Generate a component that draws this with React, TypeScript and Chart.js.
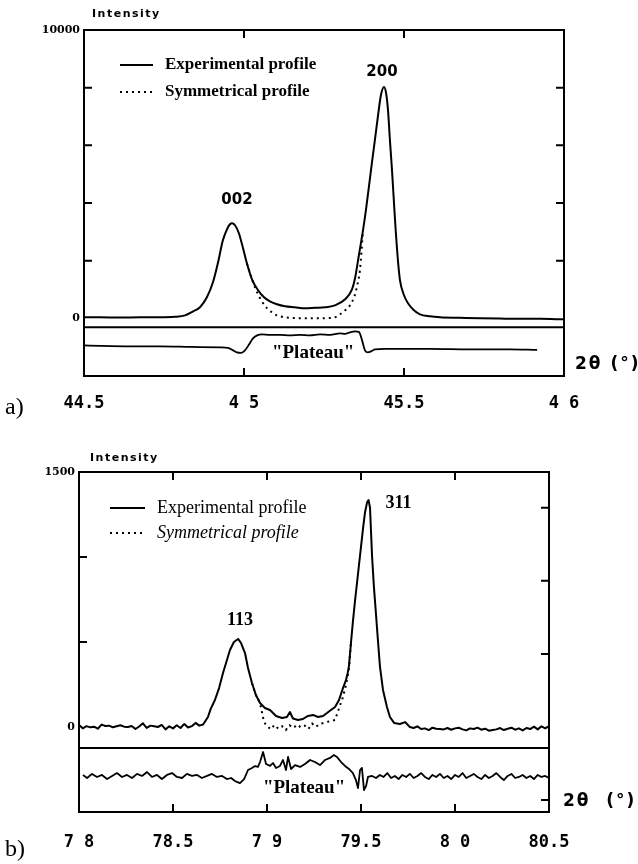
import React, { useEffect, useRef } from "react";
import { Chart, registerables } from "chart.js";

Chart.register(...registerables);

// ===================== Panel a) =====================
const thetaExpA = [44.5, 44.55, 44.6125, 44.675, 44.7375, 44.784, 44.816, 44.841, 44.8625, 44.884, 44.903, 44.919, 44.934, 44.947, 44.956, 44.9625, 44.972, 44.984, 44.997, 45.009, 45.025, 45.044, 45.0625, 45.081, 45.103, 45.128, 45.159, 45.191, 45.222, 45.253, 45.284, 45.316, 45.3375, 45.347, 45.359, 45.372, 45.381, 45.391, 45.4, 45.409, 45.419, 45.428, 45.4375, 45.444, 45.45, 45.456, 45.4625, 45.472, 45.481, 45.4875, 45.5, 45.5125, 45.531, 45.55, 45.581, 45.6125, 45.675, 45.7375, 45.8, 45.8625, 45.925, 46.0];
const experimentalA = [35, 35, 25, 35, 35, 52, 104, 243, 382, 729, 1250, 1944, 2708, 3090, 3264, 3299, 3229, 2951, 2431, 1910, 1354, 972, 729, 590, 486, 417, 382, 347, 365, 382, 451, 660, 1007, 1389, 2188, 3056, 3750, 4618, 5417, 6181, 7049, 7743, 8021, 7813, 7222, 6181, 5139, 3403, 2014, 1319, 799, 521, 278, 139, 69, 35, 17, 0, -10, -17, -17, -35];

const thetaSymA = [45.009, 45.025, 45.041, 45.056, 45.072, 45.0875, 45.103, 45.128, 45.159, 45.206, 45.253, 45.284, 45.3, 45.316, 45.331, 45.344, 45.353, 45.3625, 45.372];
const symmetricalA = [1910, 1354, 900, 590, 347, 208, 104, 35, 10, 0, 5, 35, 140, 278, 451, 729, 1100, 1700, 3056];

const thetaDiffA = [44.5, 44.55, 44.644, 44.7375, 44.831, 44.925, 44.95, 44.966, 44.978, 44.991, 45.003, 45.016, 45.028, 45.041, 45.056, 45.081, 45.1125, 45.144, 45.175, 45.206, 45.2375, 45.269, 45.3, 45.316, 45.331, 45.347, 45.359, 45.369, 45.378, 45.3875, 45.397, 45.409, 45.441, 45.4875, 45.581, 45.706, 45.831, 45.916];
const differenceA = [-938, -955, -972, -972, -990, -1007, -1024, -1111, -1181, -1198, -1111, -903, -694, -590, -556, -573, -573, -590, -573, -590, -556, -573, -521, -538, -486, -451, -469, -764, -1111, -1181, -1146, -1076, -1059, -1059, -1059, -1076, -1076, -1094];

const thetaSepA = [44.5, 46];
const separatorA = [-312, -312];

const xTickValuesA = [44.5, 45, 45.5, 46];
const xTickLabelsA = ["44.5", "4 5", "45.5", "4 6"];
const yLabelValuesA = [0, 10000];
const yLabelTextsA = ["0", "10000"];
const leftTicksA = [2000, 4000, 6000, 8000];
const rightTicksA = [2000, 4000, 6000, 8000];
const topTicksA = [45, 45.5];
const bottomTicksA = [45, 45.5];
const peakNamesA = ["002", "200"];
const peakLabelXA = [44.978, 45.431];
const peakLabelYA = [4097, 8542];

// ===================== Panel b) =====================
const thetaExpB = [78.0, 78.02, 78.04, 78.06, 78.08, 78.1, 78.12, 78.14, 78.16, 78.18, 78.2, 78.22, 78.24, 78.26, 78.28, 78.3, 78.32, 78.34, 78.36, 78.38, 78.4, 78.42, 78.44, 78.46, 78.48, 78.5, 78.52, 78.54, 78.56, 78.58, 78.6, 78.62, 78.64, 78.66, 78.686, 78.7, 78.723, 78.745, 78.766, 78.787, 78.803, 78.824, 78.846, 78.862, 78.883, 78.899, 78.92, 78.941, 78.963, 78.989, 79.016, 79.048, 79.08, 79.106, 79.122, 79.138, 79.165, 79.191, 79.218, 79.245, 79.271, 79.298, 79.319, 79.34, 79.362, 79.383, 79.404, 79.42, 79.428, 79.436, 79.447, 79.457, 79.468, 79.479, 79.489, 79.5, 79.511, 79.521, 79.532, 79.54, 79.548, 79.559, 79.569, 79.58, 79.59, 79.601, 79.617, 79.638, 79.654, 79.676, 79.707, 79.734, 79.76, 79.78, 79.8, 79.82, 79.84, 79.86, 79.88, 79.9, 79.92, 79.94, 79.96, 79.98, 80.0, 80.02, 80.04, 80.06, 80.08, 80.1, 80.12, 80.14, 80.16, 80.18, 80.2, 80.22, 80.24, 80.26, 80.28, 80.3, 80.32, 80.34, 80.36, 80.38, 80.4, 80.42, 80.44, 80.46, 80.48, 80.5];
const experimentalB = [12, -8, 5, -2, 2, -10, 14, 6, 8, -2, 4, 10, 2, 0, 6, -12, 3, 22, -5, 8, 4, 0, 12, -14, 4, -8, 10, -6, 18, -3, 5, 24, 8, 15, 59, 105, 159, 229, 318, 394, 453, 500, 518, 494, 435, 347, 259, 188, 141, 112, 100, 65, 53, 59, 88, 50, 41, 47, 65, 71, 59, 65, 82, 100, 118, 159, 229, 276, 310, 360, 500, 620, 740, 850, 950, 1060, 1170, 1260, 1320, 1335, 1290, 1000, 820, 660, 510, 353, 218, 118, 59, 24, 18, 29, 0, -6, 4, -12, -8, -18, -4, -10, -12, -14, -6, -16, -8, -4, -14, -20, -8, -12, -4, -16, -10, -22, -18, -14, -6, -18, -10, -4, -16, -8, -20, -6, -12, 2, -14, 4, -8, 6];

const thetaSymB = [78.92, 78.941, 78.963, 78.973, 78.984, 79.0, 79.02, 79.04, 79.06, 79.08, 79.1, 79.12, 79.14, 79.16, 79.18, 79.2, 79.22, 79.24, 79.26, 79.28, 79.3, 79.32, 79.34, 79.362, 79.383, 79.404, 79.42, 79.436, 79.447];
const symmetricalB = [259, 188, 141, 88, 29, 6, -14, 12, -10, 4, -18, 10, -6, 14, -2, 8, -12, 20, 0, 18, 24, 30, 35, 41, 110, 176, 247, 340, 500];

const thetaDiffB = [78.021, 78.043, 78.069, 78.096, 78.122, 78.149, 78.176, 78.202, 78.229, 78.255, 78.282, 78.309, 78.335, 78.362, 78.388, 78.415, 78.441, 78.468, 78.495, 78.521, 78.548, 78.574, 78.601, 78.628, 78.654, 78.681, 78.707, 78.734, 78.761, 78.787, 78.809, 78.83, 78.856, 78.878, 78.899, 78.92, 78.936, 78.952, 78.963, 78.979, 78.995, 79.016, 79.032, 79.048, 79.069, 79.085, 79.101, 79.112, 79.128, 79.149, 79.176, 79.202, 79.229, 79.255, 79.282, 79.309, 79.335, 79.356, 79.372, 79.394, 79.415, 79.436, 79.457, 79.473, 79.484, 79.495, 79.505, 79.516, 79.527, 79.537, 79.559, 79.58, 79.6, 79.62, 79.64, 79.66, 79.68, 79.7, 79.72, 79.74, 79.76, 79.78, 79.8, 79.82, 79.84, 79.86, 79.88, 79.9, 79.92, 79.94, 79.96, 79.98, 80.0, 80.02, 80.04, 80.06, 80.08, 80.1, 80.12, 80.14, 80.16, 80.18, 80.2, 80.22, 80.24, 80.26, 80.28, 80.3, 80.32, 80.34, 80.36, 80.38, 80.4, 80.42, 80.44, 80.46, 80.48, 80.5];
const differenceB = [-282, -300, -276, -294, -282, -306, -288, -271, -294, -282, -300, -276, -288, -265, -294, -282, -306, -282, -271, -294, -300, -276, -288, -282, -300, -288, -276, -294, -288, -306, -300, -318, -330, -306, -253, -241, -230, -235, -206, -147, -218, -229, -212, -241, -229, -194, -253, -176, -247, -224, -235, -218, -194, -206, -224, -194, -182, -165, -176, -206, -229, -247, -271, -312, -359, -253, -241, -371, -347, -294, -288, -300, -282, -294, -271, -300, -288, -306, -282, -294, -276, -300, -288, -271, -294, -306, -282, -294, -276, -300, -288, -306, -282, -294, -271, -300, -288, -276, -294, -306, -282, -300, -288, -271, -294, -312, -288, -276, -300, -294, -282, -300, -288, -306, -282, -294, -288, -300];

const thetaSepB = [78, 80.5];
const separatorB = [-124, -124];

const xTickValuesB = [78, 78.5, 79, 79.5, 80, 80.5];
const xTickLabelsB = ["7 8", "78.5", "7 9", "79.5", "8 0", "80.5"];
const yLabelValuesB = [0, 1500];
const yLabelTextsB = ["0", "1500"];
const leftTicksB = [500, 1000];
const rightTicksB = [1290, 860, 430, -430];
const topTicksB = [78.5, 79, 79.5, 80];
const bottomTicksB = [78.5, 79, 79.5, 80];
const peakNamesB = ["113", "311"];
const peakLabelXB = [78.856, 79.7];
const peakLabelYB = [629, 1318];

// ===================== helpers =====================
const zip = (xs: number[], ys: number[]) => xs.map((x, i) => ({ x, y: ys[i] }));
const labelFor = (vals: number[], texts: string[]) => (v: number) => {
  const i = vals.findIndex((t) => Math.abs(t - v) < 1e-6);
  return i >= 0 ? texts[i] : "";
};

const decoPlugin = {
  id: "deco",
  afterDatasetsDraw(chart: any, _args: any, o: any) {
    const { ctx, chartArea: ca, scales } = chart;
    const xs = scales.x;
    const ys = scales.y;
    ctx.save();
    ctx.strokeStyle = "#000";
    ctx.fillStyle = "#000";
    ctx.lineWidth = o.frameWidth;
    ctx.strokeRect(ca.left, ca.top, ca.right - ca.left, ca.bottom - ca.top);
    ctx.lineWidth = o.tickWidth;
    ctx.beginPath();
    o.leftTicks.forEach((v: number) => {
      const y = ys.getPixelForValue(v);
      ctx.moveTo(ca.left, y);
      ctx.lineTo(ca.left + o.tickLen, y);
    });
    o.rightTicks.forEach((v: number) => {
      const y = ys.getPixelForValue(v);
      ctx.moveTo(ca.right, y);
      ctx.lineTo(ca.right - o.tickLen, y);
    });
    o.topTicks.forEach((v: number) => {
      const x = xs.getPixelForValue(v);
      ctx.moveTo(x, ca.top);
      ctx.lineTo(x, ca.top + o.tickLen);
    });
    o.bottomTicks.forEach((v: number) => {
      const x = xs.getPixelForValue(v);
      ctx.moveTo(x, ca.bottom);
      ctx.lineTo(x, ca.bottom - o.tickLen);
    });
    ctx.stroke();
    o.legend.forEach((item: any, i: number) => {
      const ds = chart.data.datasets[item.dataset];
      const y = ca.top + o.legendY + i * o.legendRowGap;
      const x0 = ca.left + o.legendX;
      ctx.save();
      ctx.lineWidth = ds.borderWidth;
      ctx.setLineDash(ds.borderDash || []);
      ctx.beginPath();
      ctx.moveTo(x0, y);
      ctx.lineTo(x0 + o.sampleLen, y);
      ctx.stroke();
      ctx.restore();
      ctx.font = item.font;
      ctx.textAlign = "left";
      ctx.textBaseline = "middle";
      ctx.fillText(ds.label, x0 + o.sampleLen + o.textGap, y);
    });
    o.dataTexts.forEach((t: any) => {
      ctx.font = t.font;
      ctx.textAlign = "center";
      ctx.textBaseline = "middle";
      ctx.fillText(t.text, xs.getPixelForValue(t.x), ys.getPixelForValue(t.y));
    });
    o.frameTexts.forEach((t: any) => {
      ctx.font = t.font;
      ctx.textAlign = t.align;
      ctx.textBaseline = "middle";
      (ctx as any).letterSpacing = t.spacing || "0px";
      const x = (t.h === "left" ? ca.left : ca.right) + t.dx;
      const y = (t.v === "top" ? ca.top : ca.bottom) + t.dy;
      ctx.fillText(t.text, x, y);
      (ctx as any).letterSpacing = "0px";
    });
    ctx.restore();
  },
};

function buildConfig(s: any): any {
  return {
    type: "line",
    data: {
      datasets: [
        { label: "Experimental profile", data: zip(s.expX, s.expY), borderColor: "#000", borderWidth: 2, pointRadius: 0, fill: false, cubicInterpolationMode: s.mode, borderJoinStyle: "round" },
        { label: "Symmetrical profile", data: zip(s.symX, s.symY), borderColor: "#000", borderWidth: 2, borderDash: [2, 4], pointRadius: 0, fill: false, cubicInterpolationMode: s.mode },
        { label: "Difference", data: zip(s.diffX, s.diffY), borderColor: "#000", borderWidth: 1.8, pointRadius: 0, fill: false, cubicInterpolationMode: s.mode, borderJoinStyle: "round" },
        { label: "Separator", data: zip(s.sepX, s.sepY), borderColor: "#000", borderWidth: 2, pointRadius: 0, fill: false },
      ],
    },
    options: {
      responsive: false,
      animation: false,
      devicePixelRatio: 1,
      events: [],
      layout: { padding: s.padding },
      plugins: {
        legend: { display: false },
        tooltip: { enabled: false },
        deco: {
          frameWidth: 2,
          tickWidth: 2,
          tickLen: 8,
          leftTicks: s.leftTicks,
          rightTicks: s.rightTicks,
          topTicks: s.topTicks,
          bottomTicks: s.bottomTicks,
          legend: s.legend,
          legendX: s.legendX,
          legendY: s.legendY,
          legendRowGap: s.legendRowGap,
          sampleLen: s.sampleLen,
          textGap: s.textGap,
          dataTexts: s.dataTexts,
          frameTexts: s.frameTexts,
        },
      },
      scales: {
        x: {
          type: "linear",
          min: s.xMin,
          max: s.xMax,
          grid: { display: false, drawTicks: false },
          border: { display: false },
          ticks: {
            stepSize: 0.5,
            autoSkip: false,
            maxRotation: 0,
            padding: s.xTickPad,
            color: "#000",
            font: { family: "DejaVu Sans Mono", size: 17, weight: "bold" },
            callback: labelFor(s.xTickValues, s.xTickLabels),
          },
          afterFit: (sc: any) => {
            sc.height = 40;
          },
        },
        y: {
          type: "linear",
          min: s.yMin,
          max: s.yMax,
          grid: { display: false, drawTicks: false },
          border: { display: false },
          ticks: {
            stepSize: s.yStep,
            autoSkip: false,
            padding: 4,
            color: "#000",
            font: { family: "DejaVu Serif", size: 11, weight: "bold" },
            callback: labelFor(s.yLabelValues, s.yLabelTexts),
          },
          afterFit: (sc: any) => {
            sc.width = s.yAxisWidth;
          },
        },
      },
    },
    plugins: [decoPlugin],
  };
}

const specA = {
  mode: "monotone",
  expX: thetaExpA, expY: experimentalA,
  symX: thetaSymA, symY: symmetricalA,
  diffX: thetaDiffA, diffY: differenceA,
  sepX: thetaSepA, sepY: separatorA,
  xMin: 44.5, xMax: 46, yMin: -2000, yMax: 10000, yStep: 2000,
  xTickValues: xTickValuesA, xTickLabels: xTickLabelsA,
  yLabelValues: yLabelValuesA, yLabelTexts: yLabelTextsA,
  leftTicks: leftTicksA, rightTicks: rightTicksA, topTicks: topTicksA, bottomTicks: bottomTicksA,
  yAxisWidth: 84,
  padding: { left: 0, top: 30, right: 74, bottom: 16 },
  xTickPad: 17,
  legend: [
    { dataset: 0, font: "bold 17px 'Liberation Serif'" },
    { dataset: 1, font: "bold 17px 'Liberation Serif'" },
  ],
  legendX: 36, legendY: 35, legendRowGap: 27, sampleLen: 33, textGap: 12,
  dataTexts: [
    { text: peakNamesA[0], x: peakLabelXA[0], y: peakLabelYA[0], font: "bold 15px 'DejaVu Sans'" },
    { text: peakNamesA[1], x: peakLabelXA[1], y: peakLabelYA[1], font: "bold 15px 'DejaVu Sans'" },
    { text: "\"Plateau\"", x: 45.216, y: -1215, font: "bold 19px 'Liberation Serif'" },
  ],
  frameTexts: [
    { text: "Intensity", h: "left", dx: 8, v: "top", dy: -16, align: "left", font: "bold 11px 'DejaVu Sans'", spacing: "1.5px" },
    { text: "2θ (°)", h: "right", dx: 11, v: "bottom", dy: -11, align: "left", font: "bold 17px 'DejaVu Sans'", spacing: "2px" },
    { text: "a)", h: "left", dx: -79, v: "bottom", dy: 32, align: "left", font: "24px 'Liberation Serif'" },
  ],
};

const specB = {
  mode: "default",
  expX: thetaExpB, expY: experimentalB,
  symX: thetaSymB, symY: symmetricalB,
  diffX: thetaDiffB, diffY: differenceB,
  sepX: thetaSepB, sepY: separatorB,
  xMin: 78, xMax: 80.5, yMin: -500, yMax: 1500, yStep: 500,
  xTickValues: xTickValuesB, xTickLabels: xTickLabelsB,
  yLabelValues: yLabelValuesB, yLabelTexts: yLabelTextsB,
  leftTicks: leftTicksB, rightTicks: rightTicksB, topTicks: topTicksB, bottomTicks: bottomTicksB,
  yAxisWidth: 79,
  padding: { left: 0, top: 40, right: 89, bottom: 12 },
  xTickPad: 20,
  legend: [
    { dataset: 0, font: "18px 'Liberation Serif'" },
    { dataset: 1, font: "italic 18px 'Liberation Serif'" },
  ],
  legendX: 31, legendY: 36, legendRowGap: 25, sampleLen: 35, textGap: 12,
  dataTexts: [
    { text: peakNamesB[0], x: peakLabelXB[0], y: peakLabelYB[0], font: "bold 18px 'Liberation Serif'" },
    { text: peakNamesB[1], x: peakLabelXB[1], y: peakLabelYB[1], font: "bold 18px 'Liberation Serif'" },
    { text: "\"Plateau\"", x: 79.197, y: -359, font: "bold 19px 'Liberation Serif'" },
  ],
  frameTexts: [
    { text: "Intensity", h: "left", dx: 11, v: "top", dy: -14, align: "left", font: "bold 11px 'DejaVu Sans'", spacing: "1.5px" },
    { text: "2θ  (°)", h: "right", dx: 14, v: "bottom", dy: -10, align: "left", font: "bold 17px 'DejaVu Sans'", spacing: "2px" },
    { text: "b)", h: "left", dx: -74, v: "bottom", dy: 38, align: "left", font: "24px 'Liberation Serif'" },
  ],
};

function Panel({ spec, top }: { spec: any; top: number }) {
  const ref = useRef<HTMLCanvasElement>(null);
  useEffect(() => {
    if (!ref.current) return;
    const chart = new Chart(ref.current, buildConfig(spec));
    return () => chart.destroy();
  }, [spec]);
  return (
    <canvas
      ref={ref}
      width={638}
      height={432}
      style={{ position: "absolute", left: 0, top, width: 638, height: 432, display: "block" }}
    />
  );
}

export default function App() {
  return (
    <div style={{ position: "absolute", left: 0, top: 0, width: 638, height: 864, background: "#fff", overflow: "hidden" }}>
      <Panel spec={specA} top={0} />
      <Panel spec={specB} top={432} />
    </div>
  );
}
